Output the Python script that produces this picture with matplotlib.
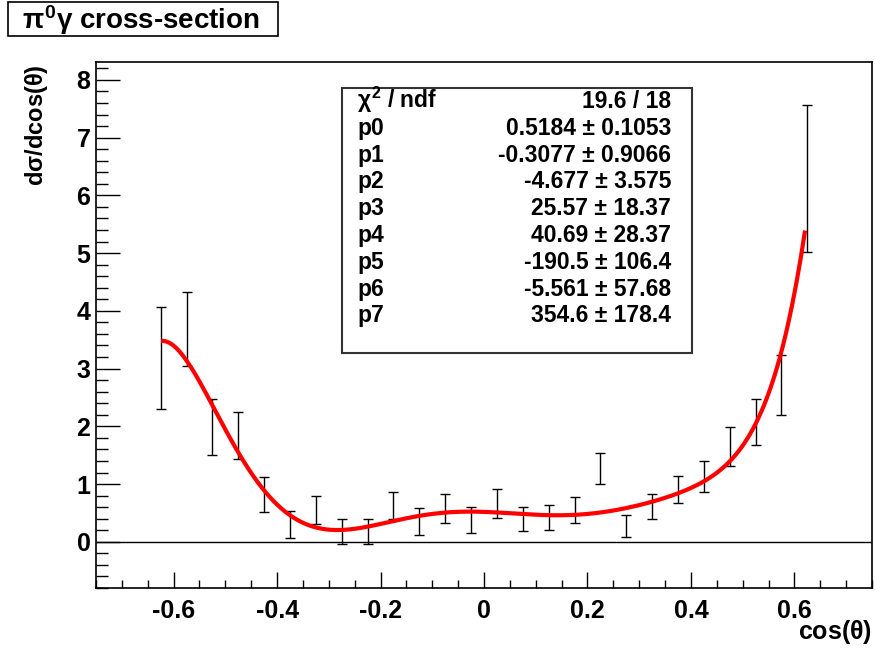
import numpy as np
import matplotlib
matplotlib.use("Agg")
import matplotlib.pyplot as plt
from matplotlib.patches import Rectangle

plt.rcParams['font.family'] = ['Liberation Sans', 'DejaVu Sans']
plt.rcParams['font.weight'] = 'bold'
plt.rcParams['mathtext.fontset'] = 'custom'
plt.rcParams['mathtext.rm'] = 'Liberation Sans'
plt.rcParams['mathtext.it'] = 'Liberation Sans'
plt.rcParams['mathtext.bf'] = 'Liberation Sans:bold'

# measured points (bin centres, value, symmetric error)
cos_theta = [-0.625, -0.575, -0.525, -0.475, -0.425, -0.375, -0.325, -0.275, -0.225,
             -0.175, -0.125, -0.075, -0.025, 0.025, 0.075, 0.125, 0.175, 0.225,
             0.275, 0.325, 0.375, 0.425, 0.475, 0.525, 0.575, 0.625]
dsigma = [3.18, 3.69, 1.99, 1.84, 0.82, 0.30, 0.55, 0.18, 0.18,
          0.63, 0.35, 0.58, 0.38, 0.67, 0.39, 0.42, 0.55, 1.27,
          0.28, 0.61, 0.91, 1.13, 1.65, 2.07, 2.72, 6.29]
dsigma_err = [0.88, 0.64, 0.48, 0.40, 0.30, 0.24, 0.25, 0.22, 0.22,
              0.23, 0.23, 0.25, 0.23, 0.25, 0.21, 0.21, 0.23, 0.27,
              0.19, 0.22, 0.23, 0.27, 0.34, 0.40, 0.52, 1.27]

# fit result (pol7) as printed in the stats box
par_names = ['p0', 'p1', 'p2', 'p3', 'p4', 'p5', 'p6', 'p7']
par_vals = [0.5184, -0.3077, -4.677, 25.57, 40.69, -190.5, -5.561, 354.6]
par_text = ['0.5184', '-0.3077', '-4.677', '25.57', '40.69', '-190.5', '-5.561', '354.6']
err_text = ['0.1053', '0.9066', '3.575', '18.37', '28.37', '106.4', '57.68', '178.4']
chi2_text = '19.6 / 18'
fit_range = (-0.62, 0.62)

W, H = 875, 649
fig = plt.figure(figsize=(W / 100, H / 100), dpi=100)
ax = fig.add_axes([96 / W, 1 - 588 / H, (872 - 96) / W, (588 - 62) / H])

ax.errorbar(cos_theta, dsigma, yerr=dsigma_err, fmt='none', ecolor='black',
            elinewidth=1.0, capsize=3.5, capthick=1.0, zorder=3)

xf = np.linspace(fit_range[0], fit_range[1], 300)
yf = np.polyval(par_vals[::-1], xf)
ax.plot(xf, yf, color='#ff0000', lw=3.0, zorder=4)

ax.axhline(0, color='black', lw=1.0, zorder=2)

ax.set_xlim(-0.75, 0.75)
ax.set_ylim(-0.8, 8.31)
ax.set_xticks([-0.6, -0.4, -0.2, 0, 0.2, 0.4, 0.6])
ax.set_xticklabels(['-0.6', '-0.4', '-0.2', '0', '0.2', '0.4', '0.6'])
ax.set_xticks(np.arange(-0.75, 0.76, 0.05), minor=True)
ax.set_yticks(range(0, 9))
ax.set_yticks(np.arange(-0.8, 8.31, 0.2), minor=True)
for s in ax.spines.values():
    s.set_linewidth(1.2)
ax.tick_params(axis='x', which='major', direction='in', length=11.5, width=1.0,
               pad=8, labelsize=18, top=False)
ax.tick_params(axis='x', which='minor', direction='in', length=5.8, width=1.0, top=False)
ax.tick_params(axis='y', which='major', direction='in', length=17, width=1.0,
               pad=4, labelsize=18, right=False)
ax.tick_params(axis='y', which='minor', direction='in', length=8.6, width=1.0, right=False)
for lab in ax.get_xticklabels() + ax.get_yticklabels():
    lab.set_fontweight('bold')

fig.text(872 / W, 1 - 632 / H, r'cos($\theta$)', ha='right', va='center', fontsize=18)
fig.text(36 / W, 1 - 64 / H, r'd$\sigma$/dcos($\theta$)', rotation=90, ha='center',
         va='top', fontsize=17)

# title box
fig.patches.append(Rectangle((8 / W, 1 - 36 / H), 270 / W, 34 / H, transform=fig.transFigure,
                             fill=False, edgecolor='black', lw=1.2))
fig.text(22 / W, 1 - 20 / H, r'$\pi^{\mathbf{0}}\gamma$ cross-section', ha='left',
         va='center', fontsize=20)

# stats box
fig.patches.append(Rectangle((342 / W, 1 - 353 / H), 350 / W, 265 / H,
                             transform=fig.transFigure, facecolor='white',
                             edgecolor='#333333', lw=1.5, zorder=5))
rows = [(r'$\chi^{\mathbf{2}}$ / ndf', chi2_text)]
for n, v, e in zip(par_names, par_text, err_text):
    rows.append((n, v + ' \u00b1 ' + e))
for i, (left, right) in enumerate(rows):
    y = 1 - (108 + i * 26.8) / H
    fig.text(357 / W, y, left, ha='left', va='baseline', fontsize=16.5, zorder=6)
    fig.text(671 / W, y, right, ha='right', va='baseline', fontsize=16.5, zorder=6)

fig.savefig('out.png', dpi=100)
